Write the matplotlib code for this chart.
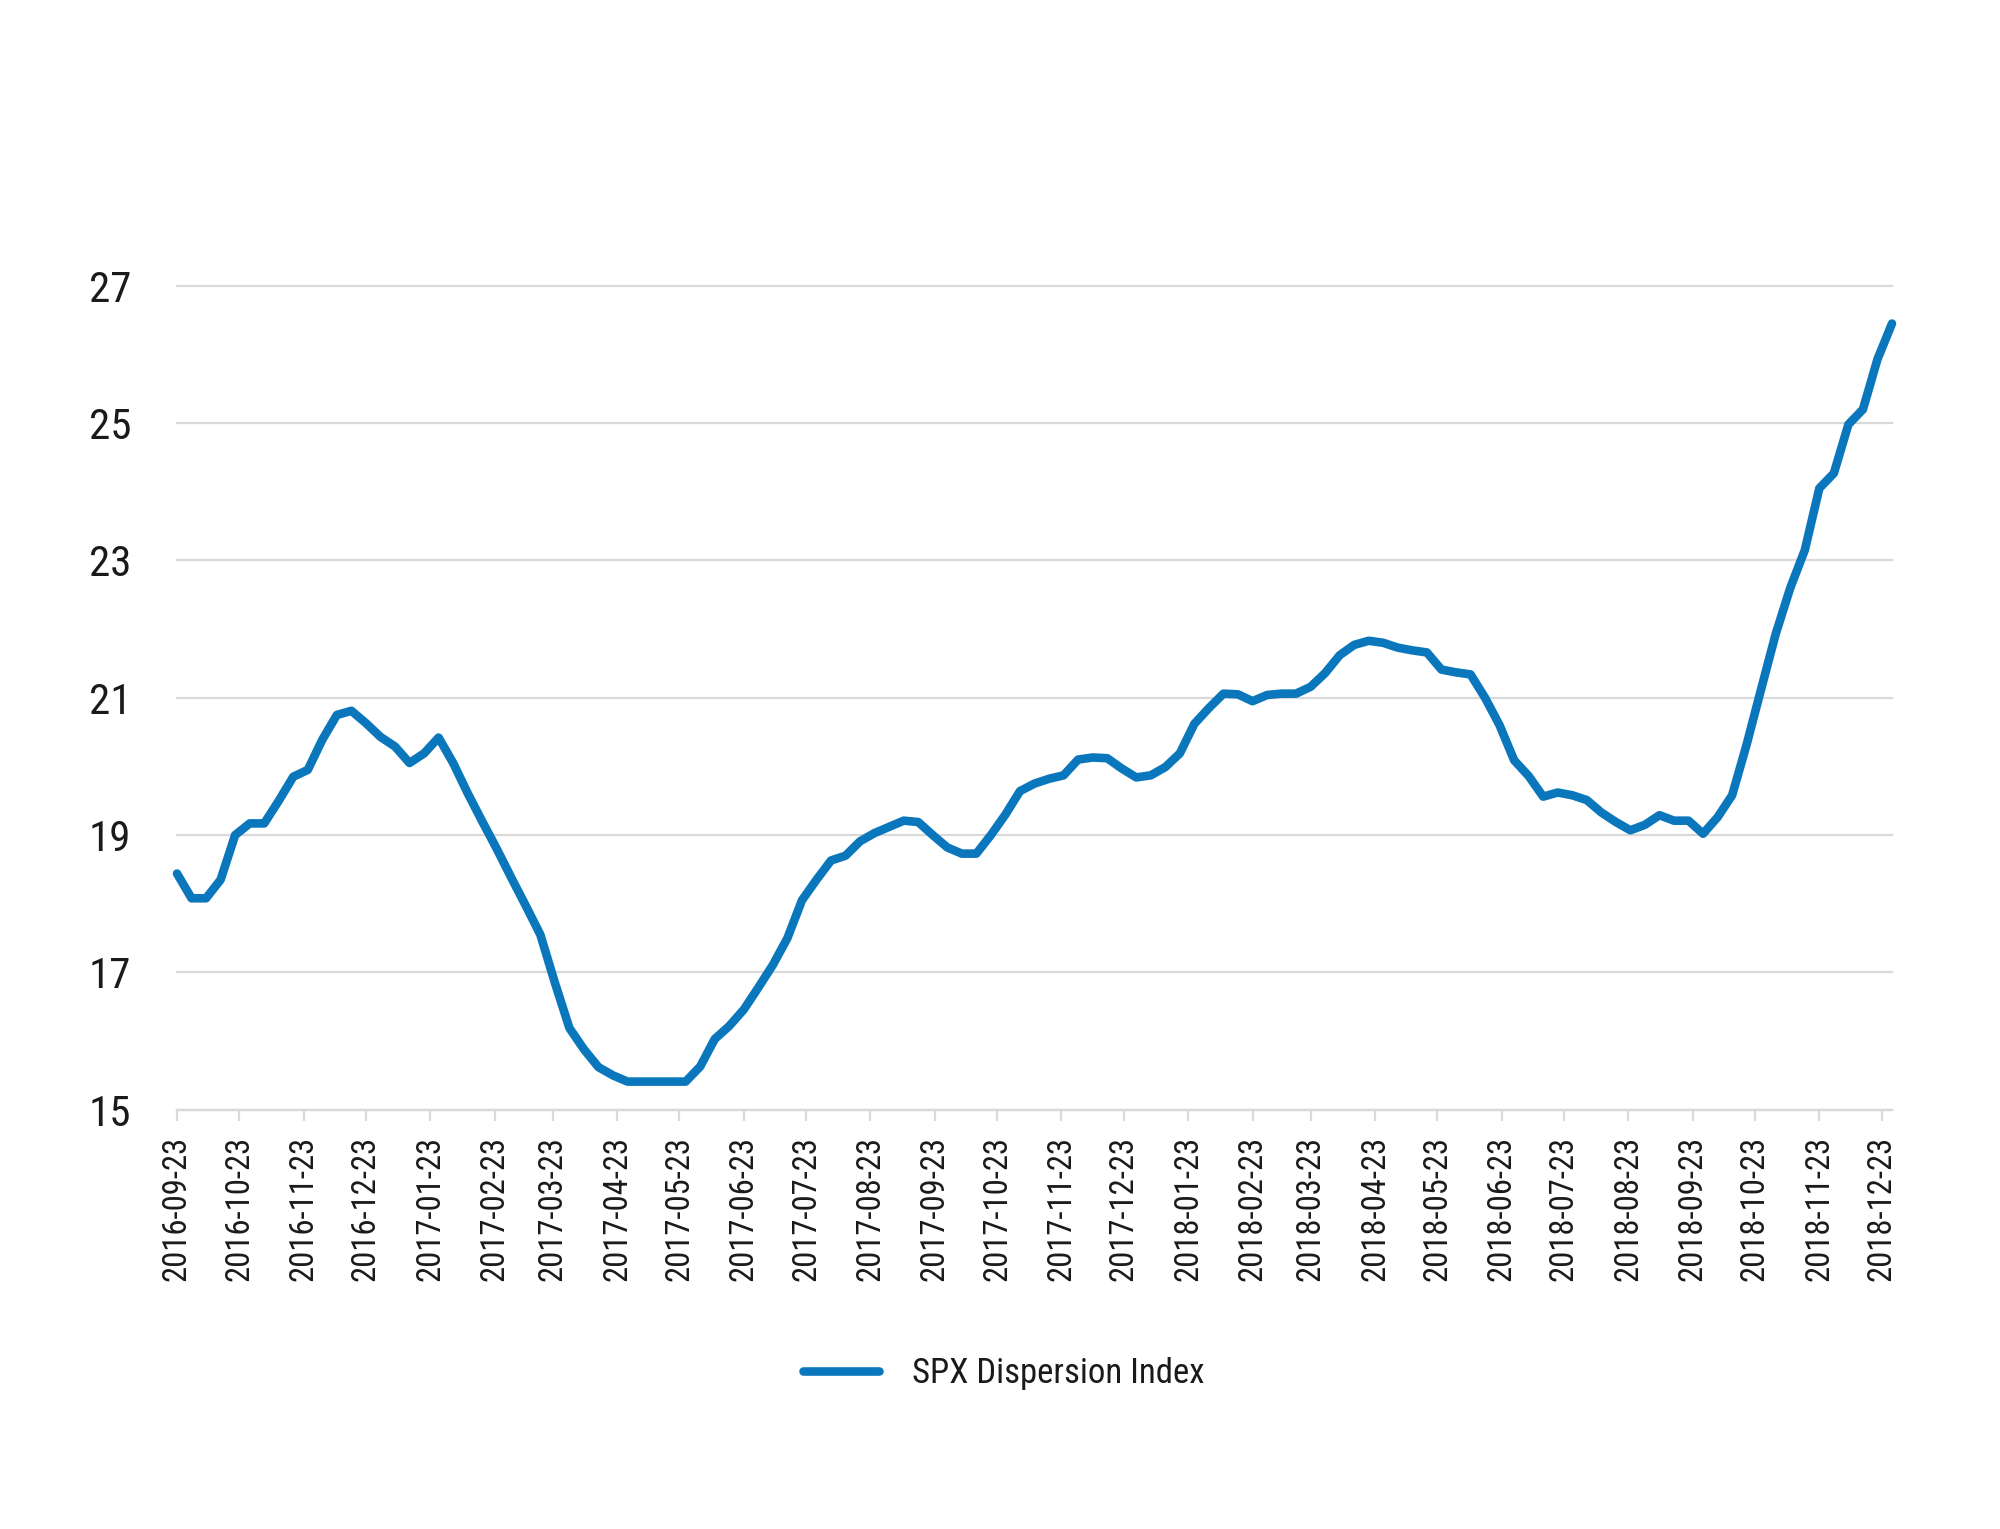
import pandas as pd
import matplotlib.pyplot as plt
import matplotlib.dates as mdates

# weekly readings, 2016-09-23 .. 2018-12-28
dates = pd.date_range("2016-09-23", periods=119, freq="7D")
dispersion = [
    18.44, 18.08, 18.08, 18.35, 19.00, 19.17, 19.17, 19.50, 19.85, 19.95,
    20.39, 20.75, 20.81, 20.63, 20.43, 20.29, 20.05, 20.19, 20.42, 20.05,
    19.61, 19.20, 18.80, 18.38, 17.97, 17.55, 16.85, 16.19, 15.88, 15.62,
    15.50, 15.41, 15.41, 15.41, 15.41, 15.41, 15.63, 16.03, 16.22, 16.46,
    16.78, 17.11, 17.50, 18.05, 18.35, 18.63, 18.70, 18.91, 19.03, 19.12,
    19.21, 19.19, 19.00, 18.82, 18.73, 18.73, 19.00, 19.30, 19.64, 19.75,
    19.82, 19.87, 20.10, 20.13, 20.12, 19.97, 19.84, 19.87, 19.99, 20.19,
    20.62, 20.85, 21.06, 21.05, 20.95, 21.04, 21.06, 21.06, 21.16, 21.36,
    21.62, 21.77, 21.83, 21.80, 21.73, 21.69, 21.66, 21.41, 21.37, 21.34,
    21.00, 20.60, 20.09, 19.86, 19.56, 19.62, 19.58, 19.51, 19.33, 19.19,
    19.07, 19.15, 19.29, 19.21, 19.21, 19.02, 19.26, 19.58, 20.32, 21.13,
    21.93, 22.60, 23.15, 24.05, 24.27, 24.98, 25.20, 25.93, 26.45,
]
series_name = "SPX Dispersion Index"
yticks = [15, 17, 19, 21, 23, 25, 27]

plt.rcParams['font.family'] = ['Roboto Condensed', 'Liberation Sans Narrow',
                               'Lato', 'DejaVu Sans']
plt.rcParams['font.stretch'] = 'condensed'

blue = '#0a77bd'
grey = '#d9d9d9'

fig = plt.figure(figsize=(20, 15.29), dpi=100)
ax = fig.add_axes([0.0885, 0.2742, 0.8575, 0.5389])

ax.plot(dates, dispersion, color=blue, lw=6.2, solid_capstyle='round',
        clip_on=False, label=series_name, zorder=3)

ax.set_ylim(15, 27)
ax.set_yticks(yticks)
ax.set_xlim(dates[0], dates[-1])
ax.xaxis.set_major_locator(mdates.MonthLocator(bymonthday=23))
ax.xaxis.set_major_formatter(mdates.DateFormatter('%Y-%m-%d'))

ax.grid(axis='y', color=grey, lw=1.6, clip_on=False)
ax.set_axisbelow(True)
for s in ['top', 'right', 'left']:
    ax.spines[s].set_visible(False)
ax.spines['bottom'].set_color(grey)
ax.spines['bottom'].set_linewidth(1.6)

ax.tick_params(axis='x', length=8, width=1.6, color=grey, labelsize=23.5,
               pad=11, labelrotation=90, labelcolor='#1a1a1a')
ax.tick_params(axis='y', length=0, labelsize=31, pad=33, labelcolor='#1a1a1a')

fig.legend(loc='center', bbox_to_anchor=(0.502, 0.1014), frameon=False,
           fontsize=25, handlelength=2.2, handletextpad=0.95,
           labelcolor='#1a1a1a')

fig.savefig('out.png', dpi=100, facecolor='white')
